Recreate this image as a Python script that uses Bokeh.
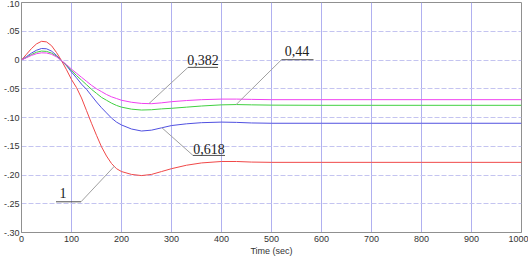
from bokeh.plotting import figure
from bokeh.models import FixedTicker, CustomJSTickFormatter, Range1d
from bokeh.core.properties import value
from bokeh.embed import file_html
from bokeh.resources import INLINE

# time axis (sec)
t = [0, 10, 20, 30, 40, 50, 60, 70, 80, 90, 100, 110, 120, 130, 140, 150, 160, 170, 180, 190,
     200, 220, 240, 260, 280, 300, 330, 360, 400, 430, 460, 500, 600, 700, 800, 900, 1000]

y_1 = [0, 0.010, 0.020, 0.028, 0.0325, 0.0315, 0.025, 0.013, -0.001, -0.017, -0.034, -0.048,
       -0.066, -0.088, -0.110, -0.131, -0.151, -0.167, -0.180, -0.189,
       -0.194, -0.199, -0.201, -0.199, -0.194, -0.189, -0.183, -0.179, -0.1765, -0.1765,
       -0.1775, -0.178, -0.178, -0.178, -0.178, -0.178, -0.178]

y_0618 = [0, 0.006, 0.012, 0.017, 0.020, 0.0195, 0.0155, 0.008, -0.001, -0.010, -0.021, -0.031,
          -0.042, -0.051, -0.062, -0.073, -0.083, -0.092, -0.101, -0.108,
          -0.113, -0.120, -0.1235, -0.122, -0.118, -0.114, -0.111, -0.109, -0.108, -0.1085,
          -0.1095, -0.110, -0.110, -0.110, -0.110, -0.110, -0.110]

y_044 = [0, 0.0045, 0.0095, 0.0135, 0.0155, 0.015, 0.012, 0.0065, -0.001, -0.009, -0.018, -0.027,
         -0.035, -0.043, -0.051, -0.058, -0.065, -0.070, -0.075, -0.079,
         -0.082, -0.0855, -0.087, -0.0865, -0.085, -0.084, -0.082, -0.080, -0.078, -0.0775,
         -0.078, -0.0785, -0.0788, -0.0788, -0.0788, -0.0788, -0.0788]

y_0382 = [0, 0.004, 0.008, 0.011, 0.0125, 0.0122, 0.010, 0.0055, -0.001, -0.008, -0.016, -0.023,
          -0.030, -0.037, -0.044, -0.050, -0.055, -0.060, -0.064, -0.067,
          -0.070, -0.0735, -0.0755, -0.076, -0.0745, -0.0725, -0.0705, -0.069, -0.068, -0.068,
          -0.0685, -0.069, -0.069, -0.069, -0.069, -0.069, -0.069]

series_names = ["1", "0,618", "0,44", "0,382"]
series_values = [y_1, y_0618, y_044, y_0382]
series_colors = ["#f04848", "#5050e0", "#40d040", "#f040f0"]

x_ticks = [0, 100, 200, 300, 400, 500, 600, 700, 800, 900, 1000]
y_ticks = [0.10, 0.05, 0.0, -0.05, -0.10, -0.15, -0.20, -0.25, -0.30]

# annotation callouts: label, text centre, underline x-span, leader end on curve
ann_labels = ["0,382", "0,44", "0,618", "1"]
ann_text_xy = [(363, 0.0002), (551, 0.0159), (375, -0.1543), (83, -0.2307)]
ann_under_x = [(333, 393), (520, 584), (343, 407), (69, 119)]
ann_under_y = [-0.0128, 0.0005, -0.166, -0.2466]
ann_leader_from_x = [333, 520, 343, 119]
ann_leader_to = [(255, -0.0757), (429, -0.0777), (281, -0.118), (186, -0.1845)]

p = figure(width=528, height=258, output_backend="svg", toolbar_location=None,
           x_range=Range1d(0, 1000), y_range=Range1d(-0.30, 0.10),
           min_border_left=21, min_border_right=7, min_border_top=2, min_border_bottom=24)

p.background_fill_color = "white"
p.border_fill_color = "white"
p.outline_line_color = "#909090"
p.outline_line_width = 1

p.xaxis.ticker = FixedTicker(ticks=x_ticks)
p.yaxis.ticker = FixedTicker(ticks=y_ticks)
p.yaxis.formatter = CustomJSTickFormatter(code="""
if (Math.abs(tick) < 1e-9) return "0";
var s = Math.abs(tick).toFixed(2).replace(/^0/, "");
return (tick < 0 ? "-" : "") + s;
""")

for ax in (p.xaxis, p.yaxis):
    ax.axis_line_color = "#909090"
    ax.major_tick_out = 0
    ax.major_tick_in = 0
    ax.minor_tick_out = 0
    ax.minor_tick_in = 0
    ax.major_label_text_font = "Liberation Sans"
    ax.major_label_text_font_size = "9px"
    ax.major_label_text_color = "#333333"

p.xaxis.major_label_standoff = 3
p.yaxis.major_label_standoff = 2
p.xaxis.axis_label = "Time (sec)"
p.xaxis.axis_label_text_font = "Liberation Sans"
p.xaxis.axis_label_text_font_size = "9px"
p.xaxis.axis_label_text_font_style = "normal"
p.xaxis.axis_label_text_color = "#333333"
p.xaxis.axis_label_standoff = 1

p.xgrid.grid_line_color = "#b0b0f0"
p.xgrid.grid_line_width = 1
p.ygrid.grid_line_color = "#c4c4f0"
p.ygrid.grid_line_dash = "5 2"
p.ygrid.grid_line_width = 1

for name, ys, c in zip(series_names, series_values, series_colors):
    p.line(t, ys, line_color=c, line_width=1)

for lab, (tx, ty), (ux0, ux1), uy, lx, (cx, cy) in zip(ann_labels, ann_text_xy, ann_under_x,
                                                        ann_under_y, ann_leader_from_x, ann_leader_to):
    p.line([ux0, ux1], [uy, uy], line_color="#505050", line_width=1)
    p.line([lx, cx], [uy, cy], line_color="#a0a0a0", line_width=1)
    p.text(x=[tx], y=[ty], text=[lab], text_font=value("Liberation Serif"),
           text_font_size="14px", text_color="#222222", text_align="center",
           text_baseline="middle")

open("out.html", "w").write(file_html(p, INLINE))
